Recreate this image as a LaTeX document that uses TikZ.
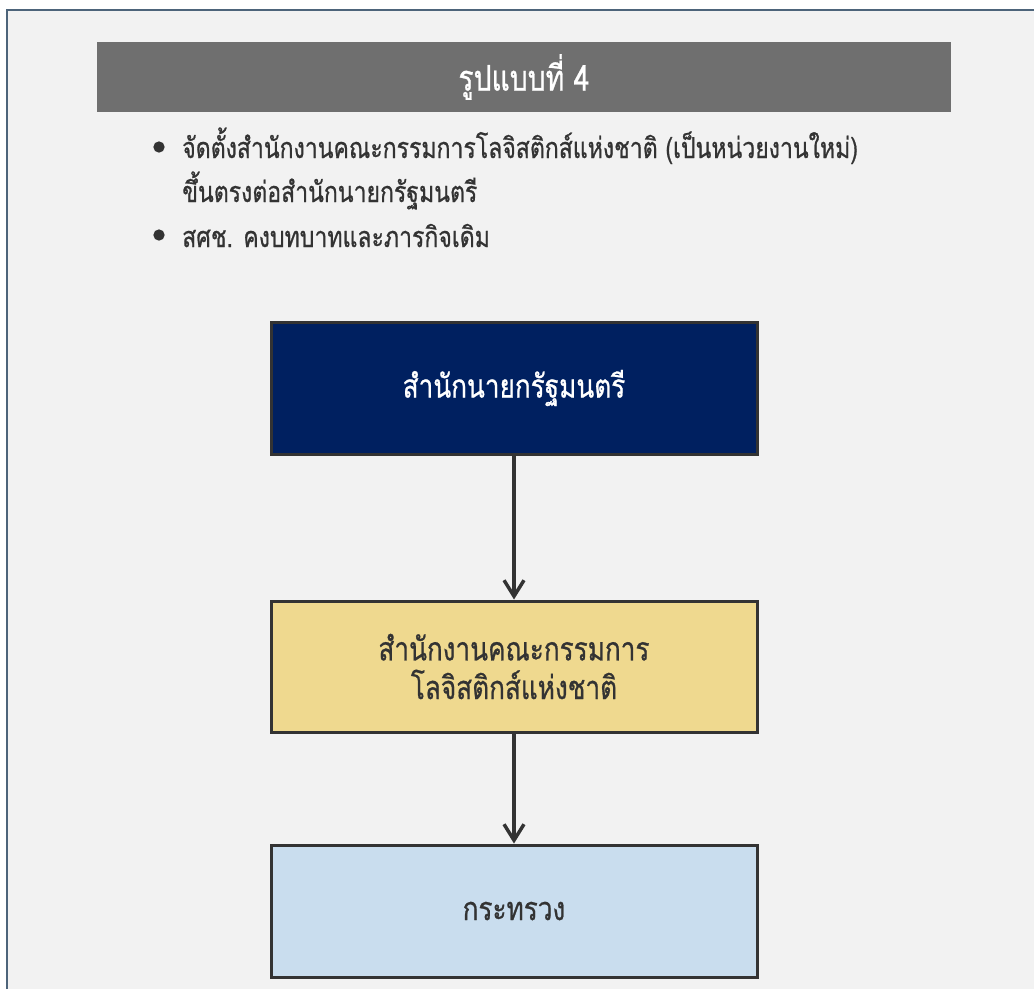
\documentclass[tikz,border=0pt]{standalone}
\usepackage{fontspec}
\newfontfamily\thai[Script=Thai,FakeStretch=0.8,FakeBold=0.7]{Loma}
\usetikzlibrary{arrows.meta}

\definecolor{pagebg}{HTML}{F2F2F2}
\definecolor{frameline}{HTML}{4D647A}
\definecolor{headgray}{HTML}{6F6F6F}
\definecolor{inkdark}{HTML}{333333}
\definecolor{navybox}{HTML}{002060}
\definecolor{sandbox}{HTML}{EFD98F}
\definecolor{skybox}{HTML}{C9DDEE}

\tikzset{
  orgbox/.style={draw=inkdark, line width=2.25pt, rectangle,
    minimum width=364.5pt, minimum height=99pt, align=center,
    inner sep=0pt, font=\thai\fontsize{24.5pt}{29pt}\selectfont},
  linkarrow/.style={draw=inkdark, line width=2.6pt,
    -{Straight Barb[length=12pt,width=15pt]}},
  bullettext/.style={anchor=base west, inner sep=0pt, text=inkdark,
    font=\thai\fontsize{21.6pt}{24pt}\selectfont},
  bulletdot/.style={circle, fill=inkdark, inner sep=0pt, minimum size=8.5pt},
}

\begin{document}
\begin{tikzpicture}[x=0.75pt,y=-0.75pt]
  \useasboundingbox (0,0) rectangle (1034,989);
  \fill[white] (0,0) rectangle (1034,989);
  % panel with its frame on top and left
  \fill[pagebg] (7,10) rectangle (1034,989);
  \draw[frameline, line width=1.9pt] (7,989) -- (7,10) -- (1034,10);

  % heading bar
  \node[fill=headgray, minimum width=640.5pt, minimum height=52.5pt,
        inner sep=0pt, text=white,
        font=\thai\fontsize{26.5pt}{30pt}\selectfont] (head) at (524,77) {รูปแบบที่ 4};

  % bullet list
  \node[bulletdot] (dot1) at (159,147) {};
  \node[bullettext] (item1a) at (182,158) {จัดตั้งสำนักงานคณะกรรมการโลจิสติกส์แห่งชาติ (เป็นหน่วยงานใหม่)};
  \node[bullettext] (item1b) at (182,202) {ขึ้นตรงต่อสำนักนายกรัฐมนตรี};
  \node[bulletdot] (dot2) at (159,235) {};
  \node[bullettext] (item2) at (182,247) {สศช. คงบทบาทและภารกิจเดิม};

  % organisation chart
  \node[orgbox, fill=navybox, text=white] (pm) at (514,388) {สำนักนายกรัฐมนตรี};
  \node[orgbox, fill=sandbox, text=inkdark, minimum height=98.25pt] (nlc) at (514,666.5)
       {สำนักงานคณะกรรมการ\\โลจิสติกส์แห่งชาติ};
  \node[orgbox, fill=skybox, text=inkdark] (min) at (514,911) {กระทรวง};

  \draw[linkarrow] (pm.south) -- (nlc.north);
  \draw[linkarrow] (nlc.south) -- (min.north);
\end{tikzpicture}
\end{document}
